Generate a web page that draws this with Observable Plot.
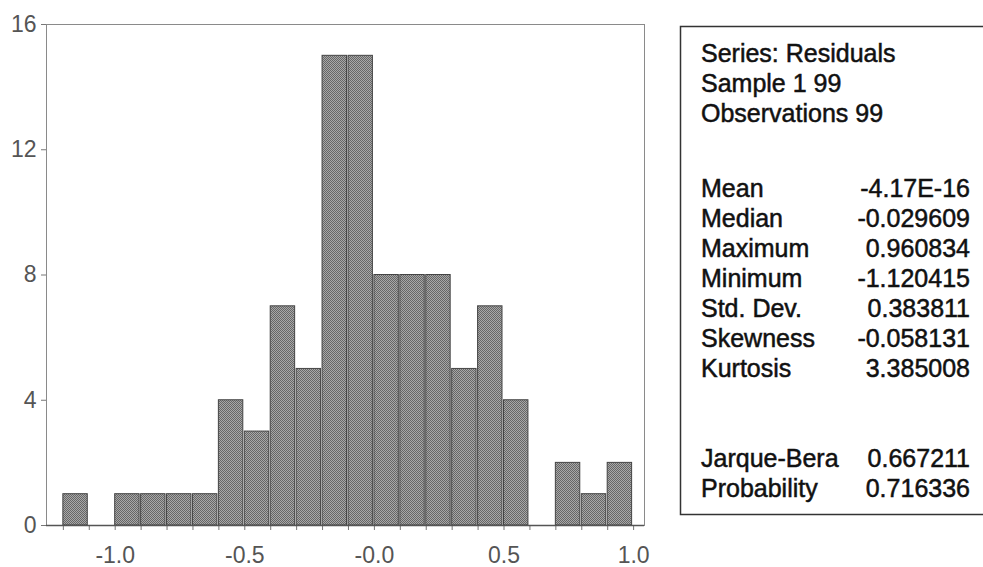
<!DOCTYPE html>
<html>
<head>
<meta charset="utf-8">
<script src="https://cdn.jsdelivr.net/npm/d3@7"></script>
<script src="https://cdn.jsdelivr.net/npm/@observablehq/plot@0.6"></script>
<style>
html, body { margin: 0; padding: 0; background: #fff; }
#chart { width: 983px; height: 567px; overflow: hidden; }
</style>
</head>
<body>
<div id="chart"></div>
<script>
// Histogram bins (lower and upper edges) and counts
const binLo  = [-1.2, -1.1, -1.0, -0.9, -0.8, -0.7, -0.6, -0.5, -0.4, -0.3, -0.2, -0.1, 0.0, 0.1, 0.2, 0.3, 0.4, 0.5, 0.6, 0.7, 0.8, 0.9];
const binHi  = [-1.1, -1.0, -0.9, -0.8, -0.7, -0.6, -0.5, -0.4, -0.3, -0.2, -0.1, 0.0, 0.1, 0.2, 0.3, 0.4, 0.5, 0.6, 0.7, 0.8, 0.9, 1.0];
const counts = [1, 0, 1, 1, 1, 1, 4, 3, 7, 5, 15, 15, 8, 8, 8, 5, 7, 4, 0, 2, 1, 2];

// Axis ticks
const yTicks = [0, 4, 8, 12, 16];
const xMinorTicks = [-1.2, -1.1, -1.0, -0.9, -0.8, -0.7, -0.6, -0.5, -0.4, -0.3, -0.2, -0.1, 0.0, 0.1, 0.2, 0.3, 0.4, 0.5, 0.6, 0.7, 0.8, 0.9, 1.0];
const xMajorTicks = [-1.0, -0.5, 0.0, 0.5, 1.0];
const xMajorLabels = ["-1.0", "-0.5", "-0.0", "0.5", "1.0"];

// Statistics box
const headerLines = ["Series: Residuals", "Sample 1 99", "Observations 99"];
const statNames  = ["Mean", "Median", "Maximum", "Minimum", "Std. Dev.", "Skewness", "Kurtosis"];
const statValues = ["-4.17E-16", "-0.029609", "0.960834", "-1.120415", "0.383811", "-0.058131", "3.385008"];
const testNames  = ["Jarque-Bera", "Probability"];
const testValues = ["0.667211", "0.716336"];

const bins = binLo.map((lo, i) => ({lo, hi: binHi[i], count: counts[i]}));
const font = "'Liberation Sans', Arial, sans-serif";

const chart = Plot.plot({
  width: 983,
  height: 567,
  marginLeft: 46,
  marginRight: 339,
  marginTop: 24,
  marginBottom: 42,
  style: {fontFamily: font, fontSize: "23px", color: "#555", background: "#fff", overflow: "visible"},
  x: {domain: [-1.265, 1.042], label: null},
  y: {domain: [0, 16], label: null},
  marks: [
    Plot.frame({stroke: "#8a8a8a"}),
    Plot.rectY(bins.filter(d => d.count > 0), {
      x1: "lo", x2: "hi", y: "count",
      fill: "url(#halftone)", stroke: "#444", strokeWidth: 1, insetRight: 1.5
    }),
    Plot.axisY({ticks: yTicks, tickSize: 5, tickPadding: 5, stroke: "#777", fill: "#555", label: null}),
    Plot.axisX({ticks: xMinorTicks, tickSize: 5, tickFormat: () => "", stroke: "#777", label: null}),
    Plot.axisX({ticks: xMajorTicks, tickSize: 0, tickPadding: 21, fill: "#555", label: null,
      tickFormat: d => xMajorLabels[xMajorTicks.findIndex(t => Math.abs(t - d) < 1e-9)]}),
    Plot.ruleY([0], {stroke: "#555", strokeWidth: 1.5})
  ]
});

document.getElementById("chart").appendChild(chart);

const svg = d3.select(chart);
svg.insert("defs", ":first-child").html(
  '<pattern id="halftone" width="2" height="2" patternUnits="userSpaceOnUse">' +
  '<rect width="2" height="2" fill="#a8a8a8"/>' +
  '<rect width="1" height="1" fill="#666666"/>' +
  '<rect x="1" y="1" width="1" height="1" fill="#666666"/>' +
  '</pattern>'
);

// Statistics box
const g = svg.append("g").attr("font-family", font).attr("font-size", 25).attr("fill", "#111")
  .attr("stroke", "#111").attr("stroke-width", 0.5).attr("text-anchor", "start");
g.append("rect").attr("x", 680.5).attr("y", 26.5).attr("width", 400).attr("height", 488)
  .attr("fill", "none").attr("stroke", "#333").attr("stroke-width", 1.5);

const labelX = 701, valueX = 970;
const headerY = [62, 92, 122];
headerLines.forEach((t, i) => g.append("text").attr("x", labelX).attr("y", headerY[i]).attr("text-anchor", "start").text(t));
const statY = [197, 227, 257, 287, 317, 347, 377];
statNames.forEach((t, i) => {
  g.append("text").attr("x", labelX).attr("y", statY[i]).attr("text-anchor", "start").text(t);
  g.append("text").attr("x", valueX).attr("y", statY[i]).attr("text-anchor", "end").text(statValues[i]);
});
const testY = [467, 497];
testNames.forEach((t, i) => {
  g.append("text").attr("x", labelX).attr("y", testY[i]).attr("text-anchor", "start").text(t);
  g.append("text").attr("x", valueX).attr("y", testY[i]).attr("text-anchor", "end").text(testValues[i]);
});
</script>
</body>
</html>
